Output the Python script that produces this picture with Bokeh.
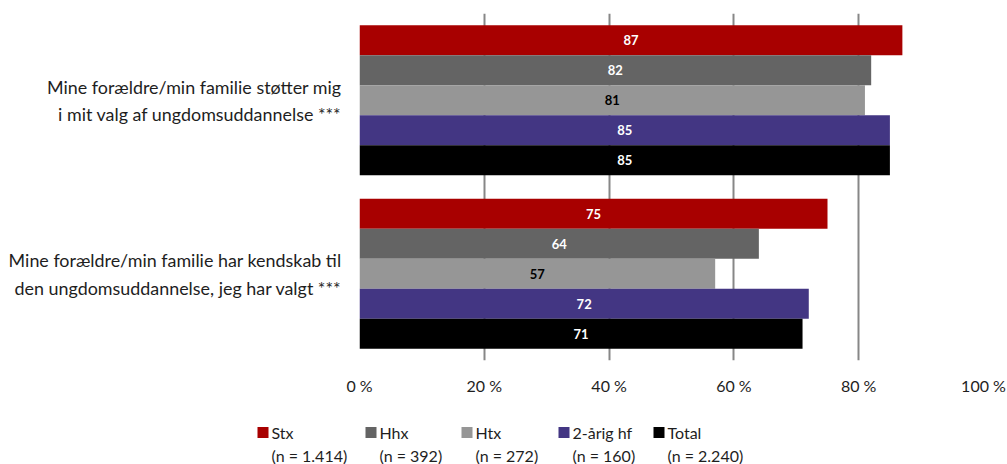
from bokeh.plotting import figure
from bokeh.models import (FactorRange, CategoricalAxis, ColumnDataSource,
                          FixedTicker, Range1d)
from bokeh.embed import file_html
from bokeh.resources import INLINE
from bokeh.core.properties import value

# ---------------- data ----------------
categories = [
    "Mine forældre/min familie støtter mig\ni mit valg af ungdomsuddannelse ***",
    "Mine forældre/min familie har kendskab til\nden ungdomsuddannelse, jeg har valgt ***",
]
series = ["Stx", "Hhx", "Htx", "2-årig hf", "Total"]
series_n = ["(n = 1.414)", "(n = 392)", "(n = 272)", "(n = 160)", "(n = 2.240)"]

stx = [87, 75]
hhx = [82, 64]
htx = [81, 57]
hf2 = [85, 72]
total = [85, 71]
series_values = [stx, hhx, htx, hf2, total]

x_ticks = [0, 20, 40, 60, 80, 100]

# ---------------- style ----------------
colors = ["#A80000", "#646464", "#969696", "#433683", "#000000"]
label_colors = ["#FFFFFF", "#FFFFFF", "#000000", "#FFFFFF", "#FFFFFF"]
FONT = "Lato"
TEXT = "#1E1E1E"

factors = [(c, s) for c in reversed(categories) for s in reversed(series)]
y_range = FactorRange(*factors, group_padding=0.78, range_padding=0.39,
                      range_padding_units="absolute", factor_padding=0.0)

p = figure(width=1007, height=400, x_range=Range1d(0, 100), y_range=y_range,
           y_axis_location=None, output_backend="svg", toolbar_location=None,
           min_border_left=359, min_border_right=24, min_border_top=13,
           min_border_bottom=40)
p.outline_line_color = None
p.background_fill_color = "white"

p.extra_y_ranges = {"cats": FactorRange(*reversed(categories), range_padding=0)}
cat_axis = CategoricalAxis(y_range_name="cats")
cat_axis.axis_line_color = None
cat_axis.major_tick_line_color = None
cat_axis.minor_tick_line_color = None
cat_axis.major_tick_out = 0
cat_axis.major_tick_in = 0
cat_axis.major_label_text_font = FONT
cat_axis.major_label_text_font_size = "17.9px"
cat_axis.major_label_text_color = TEXT
cat_axis.major_label_standoff = 18
cat_axis.major_label_text_line_height = 1.25
p.add_layout(cat_axis, "left")

xa = p.xaxis[0]
xa.ticker = FixedTicker(ticks=x_ticks)
xa.major_label_overrides = {t: f"{t} %" for t in x_ticks}
xa.axis_line_color = None
xa.major_tick_line_color = None
xa.minor_tick_line_color = None
xa.major_tick_out = 0
xa.major_tick_in = 0
xa.major_label_text_font = FONT
xa.major_label_text_font_size = "16px"
xa.major_label_text_color = TEXT
xa.major_label_standoff = 15

p.xgrid.ticker = FixedTicker(ticks=x_ticks)
p.xgrid.grid_line_color = "#878787"
p.xgrid.grid_line_width = 2
p.ygrid.visible = False

for s, vals, col, lc in zip(series, series_values, colors, label_colors):
    src = ColumnDataSource(dict(
        y=[(c, s) for c in categories],
        x=vals,
        xm=[v / 2 for v in vals],
        lbl=[str(v) for v in vals],
    ))
    p.hbar(y="y", left=0, right="x", height=1.0, source=src,
           fill_color=col, line_color=None)
    p.text(x="xm", y="y", text="lbl", source=src, text_align="center",
           text_baseline="middle", text_font=value(FONT), text_font_style="bold",
           text_font_size="13px", text_color=lc)

# ---------------- legend (separate strip below, pixel coordinates) ----------------
LEG_H = 64
leg = figure(width=1007, height=LEG_H, x_range=Range1d(0, 1007), y_range=Range1d(LEG_H, 0),
             x_axis_location=None, y_axis_location=None, output_backend="svg",
             toolbar_location=None, min_border=0, min_border_left=0, min_border_right=0,
             min_border_top=0, min_border_bottom=0)
leg.outline_line_color = None
leg.grid.visible = False

legend_left = [257, 365, 461, 558, 653]
row1, row2 = 32, 55
leg_src = ColumnDataSource(dict(
    sx=[x + 5.5 for x in legend_left],
    tx=[x + 14 for x in legend_left],
    y1=[row1] * len(series),
    y2=[row2] * len(series),
    name=series, n=series_n, color=colors,
))
leg.rect(x="sx", y="y1", width=11, height=11, width_units="screen", height_units="screen",
         fill_color="color", line_color=None, source=leg_src)
leg.text(x="tx", y="y1", text="name", source=leg_src, text_font=value(FONT),
         text_font_size="16px", text_color=TEXT, text_baseline="middle", text_align="left")
leg.text(x="tx", y="y2", text="n", source=leg_src, text_font=value(FONT),
         text_font_size="16px", text_color=TEXT, text_baseline="middle", text_align="left")

open("out.html", "w").write(file_html([p, leg], INLINE))
